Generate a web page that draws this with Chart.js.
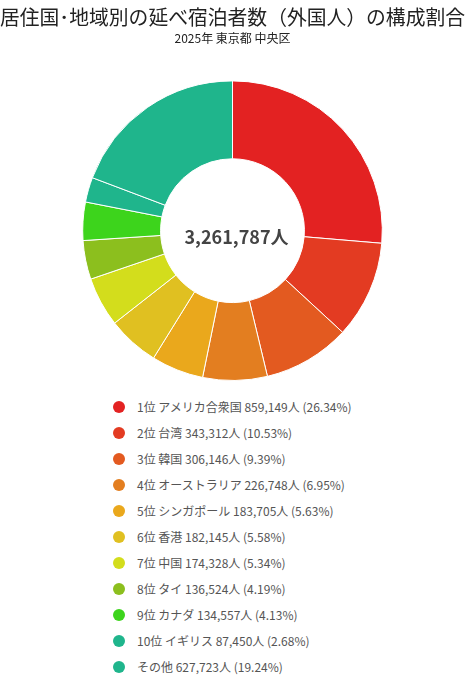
<!DOCTYPE html>
<html lang="ja">
<head>
<meta charset="utf-8">
<title>居住国･地域別の延べ宿泊者数（外国人）の構成割合</title>
<script src="https://cdn.jsdelivr.net/npm/chart.js@4.4.1/dist/chart.umd.min.js"></script>
<style>
    html, body {
        margin: 0;
        padding: 0;
        background: #fff;
        font-family: "Noto Sans CJK JP", "Noto Sans", sans-serif;
    }
    .page {
        position: relative;
        width: 465px;
        height: 683px;
        overflow: hidden;
    }
    .chart-box {
        position: absolute;
        left: 0;
        top: 0;
        width: 465px;
        height: 381px;
    }
    .legend {
        position: absolute;
        left: 113px;
        top: 394px;
        margin: 0;
        padding: 0;
        list-style: none;
    }
    .legend li {
        height: 26px;
        line-height: 20px;
        font-size: 12px;
        color: #555;
        white-space: nowrap;
        display: flex;
        align-items: center;
    }
    .legend .dot {
        display: inline-block;
        width: 12px;
        height: 12px;
        border-radius: 50%;
        margin-right: 12px;
    }
</style>
</head>
<body>
<div class="page">
    <div class="chart-box"><canvas id="shareChart"></canvas></div>
    <ul class="legend" id="shareLegend"></ul>
</div>
<script>
// 居住国・地域別 延べ宿泊者数（外国人） 2025年 中央区
const categories = ['アメリカ合衆国', '台湾', '韓国', 'オーストラリア', 'シンガポール', '香港', '中国', 'タイ', 'カナダ', 'イギリス', 'その他'];
const ranks = ['1位', '2位', '3位', '4位', '5位', '6位', '7位', '8位', '9位', '10位', ''];
const guests = [859149, 343312, 306146, 226748, 183705, 182145, 174328, 136524, 134557, 87450, 627723];
const shares = [26.34, 10.53, 9.39, 6.95, 5.63, 5.58, 5.34, 4.19, 4.13, 2.68, 19.24];
const sliceColors = ['#e32222', '#e33b22', '#e35a20', '#e37e20', '#eaa81c', '#e0c021', '#d3dd1c', '#8cbf1e', '#3dd41c', '#1fb58c', '#1fb58c'];

(function() {
    'use strict';

    const fontFamily = '"Noto Sans CJK JP", "Noto Sans", sans-serif';
    const total = guests.reduce((a, b) => a + b, 0);

    function labelText(i) {
        const head = ranks[i] ? ranks[i] + ' ' : '';
        return head + categories[i] + ' ' + guests[i].toLocaleString('en-US') + '人 (' + shares[i].toFixed(2) + '%)';
    }

    // 中央の合計表示
    const centerTotal = {
        id: 'centerTotal',
        afterDatasetsDraw(chart) {
            const arc = chart.getDatasetMeta(0).data[0];
            if (!arc) return;
            const ctx = chart.ctx;
            ctx.save();
            ctx.font = 'bold 18px ' + fontFamily;
            ctx.fillStyle = '#444';
            ctx.textAlign = 'center';
            ctx.textBaseline = 'middle';
            ctx.fillText(total.toLocaleString('en-US') + '人', arc.x + 4, arc.y + 6);
            ctx.restore();
        }
    };

    function init() {
        const ctx = document.getElementById('shareChart').getContext('2d');

        new Chart(ctx, {
            type: 'doughnut',
            data: {
                labels: categories,
                datasets: [{
                    data: guests,
                    backgroundColor: sliceColors,
                    borderColor: '#fff',
                    borderWidth: 1,
                    hoverOffset: 0
                }]
            },
            options: {
                responsive: true,
                maintainAspectRatio: false,
                animation: false,
                cutout: '48%',
                layout: {
                    padding: 0
                },
                plugins: {
                    legend: {
                        display: false
                    },
                    title: {
                        display: true,
                        text: '居住国･地域別の延べ宿泊者数（外国人）の構成割合',
                        color: '#222',
                        font: { family: fontFamily, size: 20, weight: 'normal' },
                        padding: { top: 5, bottom: 2 }
                    },
                    subtitle: {
                        display: true,
                        text: '2025年 東京都 中央区',
                        color: '#222',
                        font: { family: fontFamily, size: 12, weight: 'normal' },
                        padding: { top: 0, bottom: 35 }
                    },
                    tooltip: {
                        callbacks: {
                            label: function(context) {
                                return labelText(context.dataIndex);
                            }
                        }
                    }
                }
            },
            plugins: [centerTotal]
        });

        // 凡例
        const legend = document.getElementById('shareLegend');
        categories.forEach((name, i) => {
            const li = document.createElement('li');
            const dot = document.createElement('span');
            dot.className = 'dot';
            dot.style.background = sliceColors[i];
            li.appendChild(dot);
            li.appendChild(document.createTextNode(labelText(i)));
            legend.appendChild(li);
        });
    }

    if (document.readyState === 'loading') {
        document.addEventListener('DOMContentLoaded', init);
    } else {
        init();
    }
})();
</script>
</body>
</html>
